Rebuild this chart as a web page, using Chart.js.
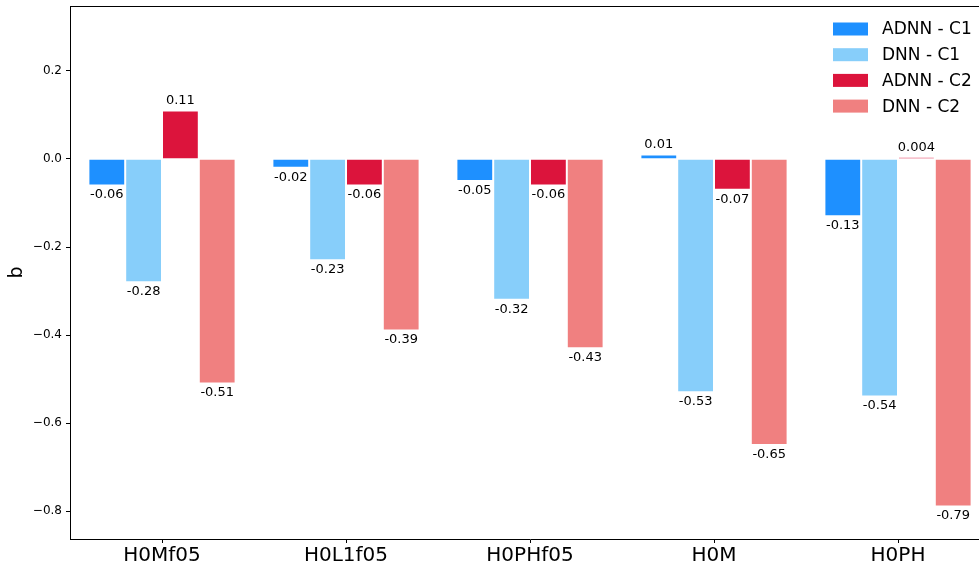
<!DOCTYPE html>
<html>
<head>
<meta charset="utf-8">
<script src="https://cdn.jsdelivr.net/npm/chart.js@4"></script>
<style>
  html, body { margin: 0; padding: 0; background: #fff; overflow: hidden; }
  #wrap { width: 990px; height: 570px; }
</style>
</head>
<body>
<div id="wrap"><canvas id="myChart" width="990" height="570"></canvas></div>
<script>
var categories = ['H0Mf05', 'H0L1f05', 'H0PHf05', 'H0M', 'H0PH'];
var adnnC1 = [-0.06, -0.02, -0.05, 0.01, -0.13];
var dnnC1 = [-0.28, -0.23, -0.32, -0.53, -0.54];
var adnnC2 = [0.11, -0.06, -0.06, -0.07, 0.004];
var dnnC2 = [-0.51, -0.39, -0.43, -0.65, -0.79];
var yTicks = [-0.8, -0.6, -0.4, -0.2, 0.0, 0.2];

var FONT = "'DejaVu Sans', sans-serif";

function fmtVal(v) {
  if (Math.abs(v) < 0.01 && v !== 0) return v.toFixed(3);
  return v.toFixed(2);
}

// value labels above / below each bar
var barLabels = {
  id: 'barLabels',
  afterDatasetsDraw: function(chart) {
    var ctx = chart.ctx;
    ctx.save();
    ctx.font = '13px ' + FONT;
    ctx.fillStyle = '#000';
    ctx.textAlign = 'center';
    chart.data.datasets.forEach(function(ds, i) {
      var meta = chart.getDatasetMeta(i);
      meta.data.forEach(function(bar, j) {
        var v = ds.data[j];
        if (v >= 0) {
          ctx.textBaseline = 'bottom';
          ctx.fillText(fmtVal(v), bar.x, bar.y - 3);
        } else {
          ctx.textBaseline = 'top';
          ctx.fillText(fmtVal(v), bar.x, bar.y + 3);
        }
      });
    });
    ctx.restore();
  }
};

// legend drawn inside the plot, top right
var innerLegend = {
  id: 'innerLegend',
  afterDraw: function(chart) {
    var ctx = chart.ctx;
    ctx.save();
    ctx.font = '17px ' + FONT;
    ctx.textAlign = 'left';
    ctx.textBaseline = 'middle';
    chart.data.datasets.forEach(function(ds, i) {
      var cy = 29 + i * 25.7;
      ctx.fillStyle = ds.backgroundColor;
      ctx.fillRect(833, cy - 6.5, 35, 13);
      ctx.fillStyle = '#000';
      ctx.fillText(ds.label, 882, cy + 1);
    });
    ctx.restore();
  }
};

// top spine
var topSpine = {
  id: 'topSpine',
  afterDraw: function(chart) {
    var a = chart.chartArea;
    var ctx = chart.ctx;
    ctx.save();
    ctx.strokeStyle = '#000';
    ctx.lineWidth = 1;
    ctx.beginPath();
    ctx.moveTo(a.left, a.top + 0.5);
    ctx.lineTo(a.right, a.top + 0.5);
    ctx.stroke();
    ctx.restore();
  }
};

var ctx = document.getElementById('myChart').getContext('2d');
var myChart = new Chart(ctx, {
  type: 'bar',
  data: {
    labels: categories,
    datasets: [
      { label: 'ADNN - C1', data: adnnC1, backgroundColor: '#1E90FF' },
      { label: 'DNN - C1', data: dnnC1, backgroundColor: '#87CEFA' },
      { label: 'ADNN - C2', data: adnnC2, backgroundColor: '#DC143C' },
      { label: 'DNN - C2', data: dnnC2, backgroundColor: '#F08080' }
    ].map(function(d) {
      d.borderColor = '#fff';
      d.borderWidth = 1;
      d.categoryPercentage = 0.8;
      d.barPercentage = 1.0;
      return d;
    })
  },
  options: {
    responsive: false,
    animation: false,
    layout: { padding: { top: 6, left: 0, right: 0, bottom: 0 } },
    plugins: {
      legend: { display: false },
      tooltip: { enabled: false }
    },
    scales: {
      x: {
        offset: true,
        grid: { display: true, drawOnChartArea: false, drawTicks: true, tickLength: 4, color: '#000', offset: false },
        border: { display: true, color: '#000', width: 1 },
        ticks: { color: '#000', font: { family: FONT, size: 20 }, padding: 1 },
        afterFit: function(scale) {
          scale.height = 31;
          scale.paddingLeft = 0;
          scale.paddingRight = 0;
        }
      },
      y: {
        min: -0.8636,
        max: 0.3477,
        grid: { display: true, drawOnChartArea: false, drawTicks: true, tickLength: 4, color: '#000' },
        border: { display: true, color: '#000', width: 1 },
        afterBuildTicks: function(scale) {
          scale.ticks = yTicks.map(function(v) { return { value: v }; });
        },
        ticks: {
          color: '#000',
          font: { family: FONT, size: 12 },
          padding: 4,
          callback: function(v) {
            return (v < 0 ? '\u2212' : '') + Math.abs(v).toFixed(1);
          }
        },
        title: { display: true, text: 'b', color: '#000', font: { family: FONT, size: 19 }, padding: { top: 6, bottom: 0 } },
        afterFit: function(scale) {
          scale.width = 70;
          scale.paddingTop = 0;
          scale.paddingBottom = 0;
        }
      }
    }
  },
  plugins: [barLabels, innerLegend, topSpine]
});
</script>
</body>
</html>
